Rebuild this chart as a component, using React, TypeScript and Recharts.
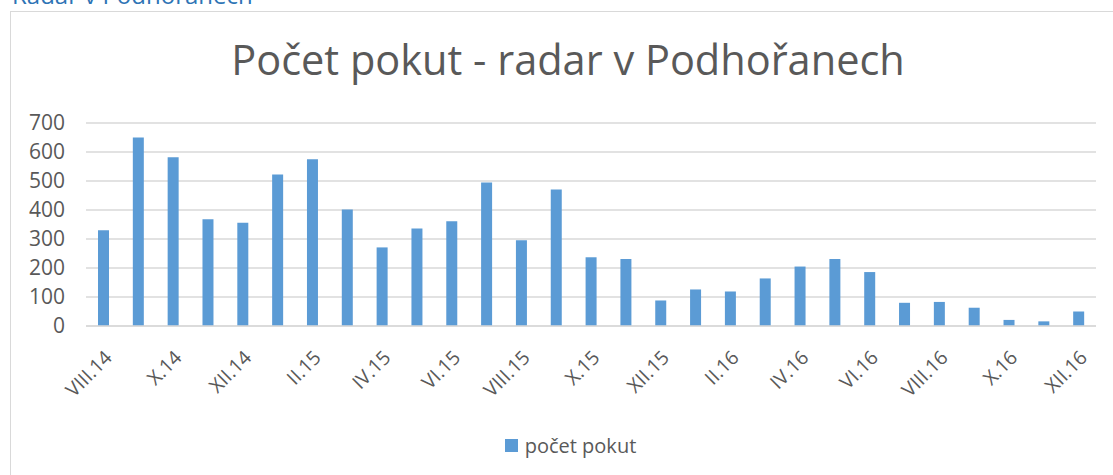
import React from "react";
import { BarChart, Bar, XAxis, YAxis, CartesianGrid, Legend } from "recharts";

const months = [
  "VIII.14", "IX.14", "X.14", "XI.14", "XII.14",
  "I.15", "II.15", "III.15", "IV.15", "V.15", "VI.15", "VII.15", "VIII.15", "IX.15", "X.15", "XI.15", "XII.15",
  "I.16", "II.16", "III.16", "IV.16", "V.16", "VI.16", "VII.16", "VIII.16", "IX.16", "X.16", "XI.16", "XII.16",
];
const fines = [
  330, 650, 582, 368, 356,
  522, 575, 402, 271, 336, 361, 495, 296, 471, 237, 231, 88,
  126, 119, 164, 205, 231, 186, 80, 83, 63, 21, 16, 50,
];
const yTicks = [0, 100, 200, 300, 400, 500, 600, 700];
const seriesName = "počet pokut";
const chartTitle = "Počet pokut - radar v Podhořanech";
const headerText = "Radar v Podhořanech";

const data = months.map((m, i) => ({ month: m, value: fines[i] }));

const FONT = "'Open Sans', sans-serif";
const TEXT = "#595959";
const BLUE = "#5b9bd5";

const XTick = (props: any) => {
  const { x, y, payload } = props;
  return (
    <g transform={`translate(${x + 5},${y + 28})`}>
      <text
        x={0}
        y={0}
        dy="0.35em"
        textAnchor="end"
        transform="rotate(-45)"
        fill={TEXT}
        fontSize={19.5}
        fontFamily={FONT}
      >
        {payload.value}
      </text>
    </g>
  );
};

const LegendContent = () => (
  <div
    style={{
      width: 1113,
      height: 30,
      display: "flex",
      justifyContent: "center",
      alignItems: "center",
      paddingLeft: 28,
      boxSizing: "border-box",
      fontFamily: FONT,
      fontSize: 20,
      color: TEXT,
    }}
  >
    <span style={{ display: "inline-block", width: 13, height: 13, background: BLUE, marginRight: 7 }} />
    <span>{seriesName}</span>
  </div>
);

export default function App() {
  return (
    <div style={{ position: "absolute", left: 0, top: 0, width: 1113, height: 475, overflow: "hidden", background: "#fff" }}>
      <div
        style={{
          position: "absolute",
          left: 10,
          top: 11,
          width: 1200,
          height: 600,
          border: "1.5px solid #d9d9d9",
          boxSizing: "border-box",
        }}
      />
      <div style={{ position: "absolute", left: 0, top: 0 }}>
        <BarChart width={1113} height={475} data={data} margin={{ top: 123, right: 17, left: 0, bottom: 15 }}>
          <CartesianGrid vertical={false} stroke="#d9d9d9" strokeWidth={1.3} />
          <XAxis
            dataKey="month"
            interval={1}
            tickLine={false}
            tickSize={0}
            tickMargin={0}
            axisLine={{ stroke: "#d9d9d9", strokeWidth: 1.3 }}
            height={104}
            tick={<XTick />}
          />
          <YAxis
            domain={[0, 700]}
            ticks={yTicks}
            interval={0}
            width={86}
            axisLine={false}
            tickLine={false}
            tickSize={6}
            tickMargin={15}
            tick={{ fill: TEXT, fontSize: 21, fontFamily: FONT }}
          />
          <Legend verticalAlign="bottom" wrapperStyle={{ left: 0, width: 1113, height: 30 }} content={<LegendContent />} />
          <Bar dataKey="value" name={seriesName} fill={BLUE} barSize={11} isAnimationActive={false} />
        </BarChart>
      </div>
      <svg width={1113} height={475} style={{ position: "absolute", left: 0, top: 0, pointerEvents: "none" }}>
        <text x={12} y={4} fill="#2e74b5" fontSize={24} fontFamily={FONT}>
          {headerText}
        </text>
        <text x={568} y={75} textAnchor="middle" fill={TEXT} fontSize={41.5} fontFamily={FONT}>
          {chartTitle}
        </text>
      </svg>
    </div>
  );
}
